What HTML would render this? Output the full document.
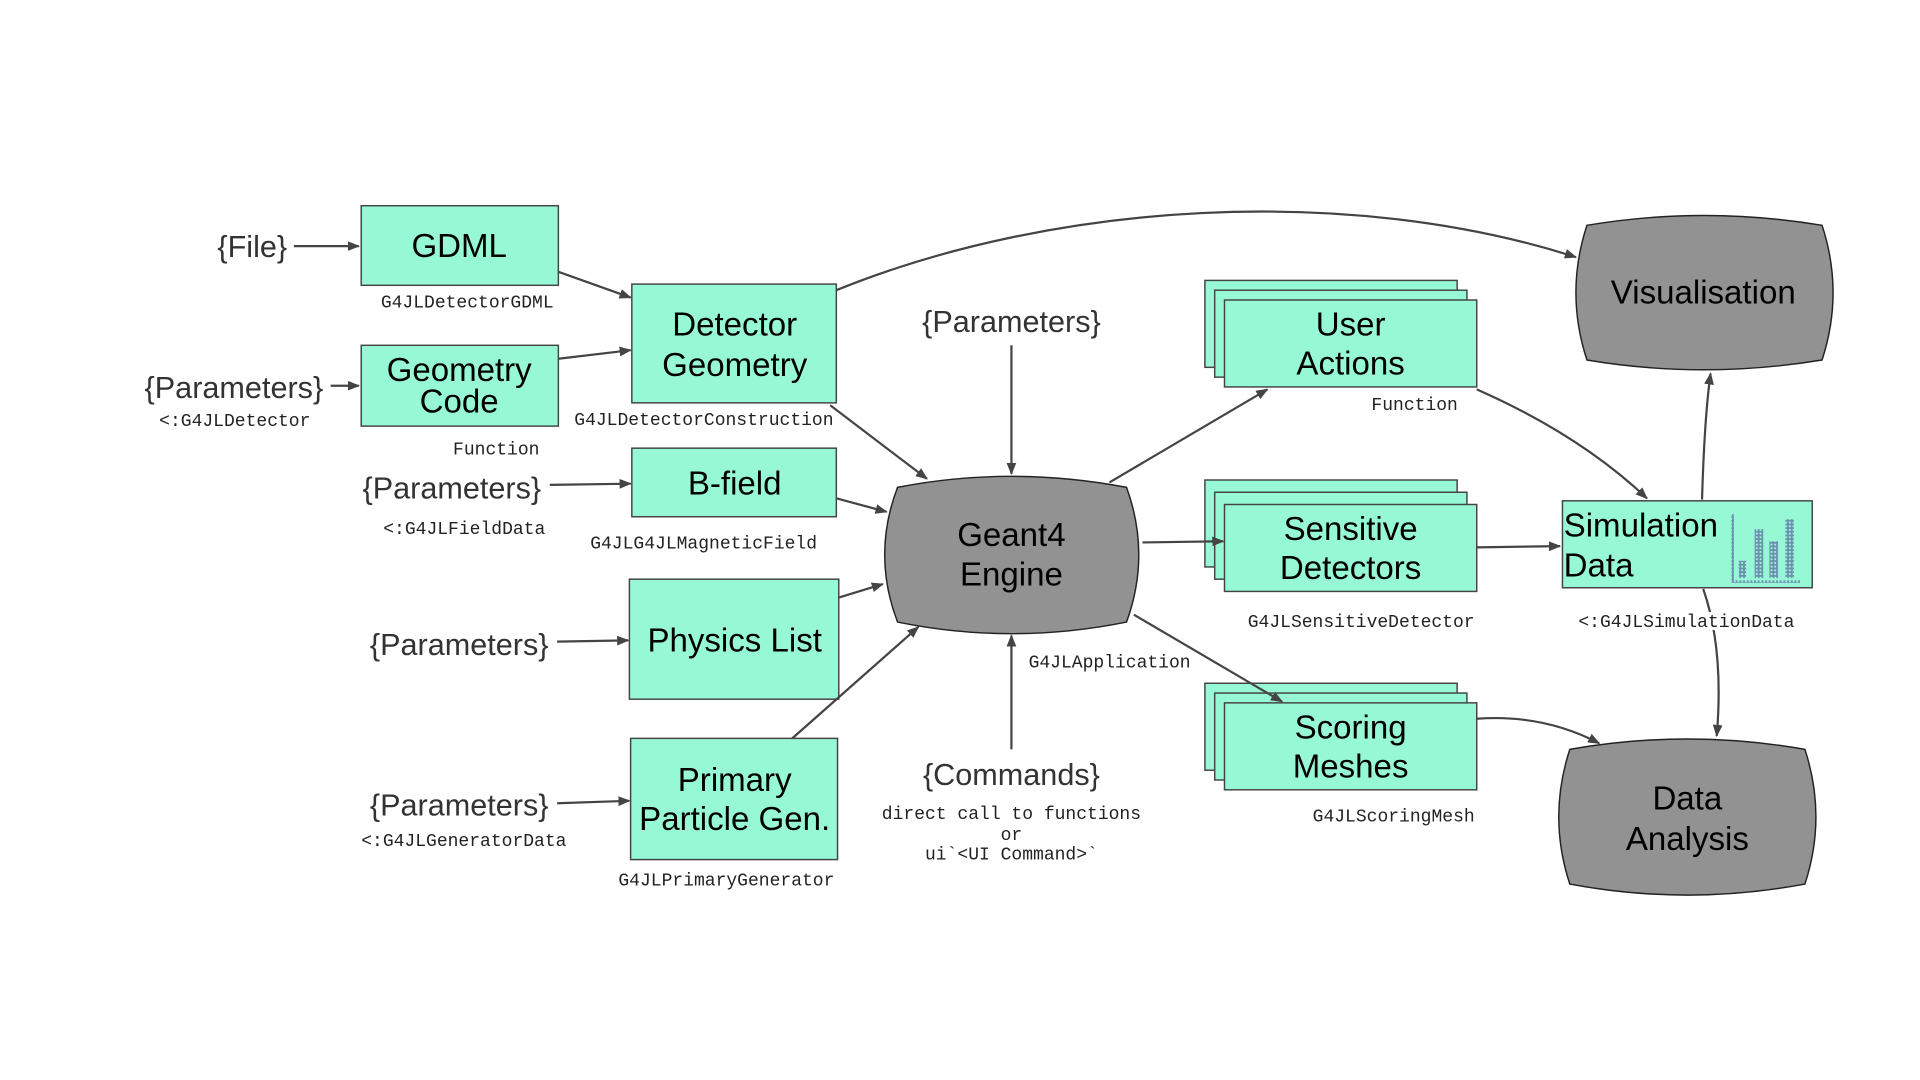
<!DOCTYPE html>
<html><head><meta charset="utf-8"><style>
html,body{margin:0;padding:0;background:#fff;}
svg{display:block;}
.box{fill:#97f8d5;stroke:#444;stroke-width:1.2;}
.gray{fill:#929292;stroke:#222;stroke-width:1.2;}
.t{font-family:"Liberation Sans",sans-serif;font-size:27px;fill:#000;text-anchor:middle;}
.p{font-family:"Liberation Sans",sans-serif;font-size:25px;fill:#333;text-anchor:middle;}
.m{font-family:"Liberation Mono",monospace;font-size:14.7px;fill:#222;}
.a{fill:none;stroke:#444;stroke-width:1.8;marker-end:url(#ah);}
</style></head><body>
<svg width="1920" height="1080" viewBox="0 0 1568 882">
<defs><marker id="ah" markerWidth="10" markerHeight="8" refX="9" refY="4" orient="auto" markerUnits="userSpaceOnUse"><path d="M0,0 L10,4 L0,8 z" fill="#444"/></marker>
<pattern id="dots" width="3" height="3" patternUnits="userSpaceOnUse"><rect width="3" height="3" fill="#6d8fb0"/><rect width="1.5" height="1.5" fill="#97f8d5"/></pattern></defs>

<text class="p" x="206" y="210">{File}</text>
<rect class="box" x="295" y="168" width="161" height="65"/>
<text class="t" x="375" y="210">GDML</text>
<text class="m" x="311" y="251">G4JLDetectorGDML</text>

<text class="p" x="191" y="325">{Parameters}</text>
<rect class="box" x="295" y="282" width="161" height="66"/>
<text class="t" x="375" y="311">Geometry</text>
<text class="t" x="375" y="337">Code</text>
<text class="m" x="130" y="348">&lt;:G4JLDetector</text>
<text class="m" x="370" y="371">Function</text>

<rect class="box" x="516" y="232" width="167" height="97"/>
<text class="t" x="600" y="274">Detector</text>
<text class="t" x="600" y="307">Geometry</text>
<text class="m" x="469" y="347">G4JLDetectorConstruction</text>

<text class="p" x="369" y="407">{Parameters}</text>
<rect class="box" x="516" y="366" width="167" height="56"/>
<text class="t" x="600" y="404">B-field</text>
<text class="m" x="313" y="436">&lt;:G4JLFieldData</text>
<text class="m" x="482" y="448">G4JLG4JLMagneticField</text>

<text class="p" x="375" y="535">{Parameters}</text>
<rect class="box" x="514" y="473" width="171" height="98"/>
<text class="t" x="600" y="532">Physics List</text>

<text class="p" x="375" y="666">{Parameters}</text>
<rect class="box" x="515" y="603" width="169" height="99"/>
<text class="t" x="600" y="646">Primary</text>
<text class="t" x="600" y="678">Particle Gen.</text>
<text class="m" x="295" y="691">&lt;:G4JLGeneratorData</text>
<text class="m" x="505" y="723">G4JLPrimaryGenerator</text>

<text class="p" x="826" y="271">{Parameters}</text>
<path class="gray" d="M733,398 Q826,380 920,398 Q940,453 920,508 Q826,527 733,508 Q712,453 733,398 Z"/>
<text class="t" x="826" y="446">Geant4</text>
<text class="t" x="826" y="478">Engine</text>
<text class="m" x="840" y="545">G4JLApplication</text>
<text class="p" x="826" y="641">{Commands}</text>
<text class="m" x="826" y="669" text-anchor="middle">direct call to functions</text>
<text class="m" x="826" y="686" text-anchor="middle">or</text>
<text class="m" x="826" y="702" text-anchor="middle">ui`&lt;UI Command&gt;`</text>

<g>
<rect class="box" x="984" y="229" width="206" height="71"/>
<rect class="box" x="992" y="237" width="206" height="71"/>
<rect class="box" x="1000" y="245" width="206" height="71"/>
<text class="t" x="1103" y="274">User</text>
<text class="t" x="1103" y="306">Actions</text>
</g>
<text class="m" x="1120" y="335">Function</text>

<g>
<rect class="box" x="984" y="392" width="206" height="71"/>
<rect class="box" x="992" y="402" width="206" height="71"/>
<rect class="box" x="1000" y="412" width="206" height="71"/>
<text class="t" x="1103" y="441">Sensitive</text>
<text class="t" x="1103" y="473">Detectors</text>
</g>
<text class="m" x="1019" y="512">G4JLSensitiveDetector</text>

<g>
<rect class="box" x="984" y="558" width="206" height="71"/>
<rect class="box" x="992" y="566" width="206" height="71"/>
<rect class="box" x="1000" y="574" width="206" height="71"/>
<text class="t" x="1103" y="603">Scoring</text>
<text class="t" x="1103" y="635">Meshes</text>
</g>
<text class="m" x="1072" y="671">G4JLScoringMesh</text>

<path class="gray" d="M1296,184 Q1391,168 1488,184 Q1506,239 1488,294 Q1391,310 1296,294 Q1278,239 1296,184 Z"/>
<text class="t" x="1391" y="248">Visualisation</text>

<rect class="box" x="1276" y="409" width="204" height="71"/>
<text class="t" x="1277" y="438" style="text-anchor:start">Simulation</text>
<text class="t" x="1277" y="471" style="text-anchor:start">Data</text>
<g>
<rect x="1414" y="420" width="2" height="54" fill="url(#dots)"/>
<rect x="1414" y="474" width="56" height="2" fill="url(#dots)"/>
<rect x="1420" y="458" width="6" height="14" fill="url(#dots)"/>
<rect x="1433" y="432" width="7" height="40" fill="url(#dots)"/>
<rect x="1445" y="442" width="7" height="30" fill="url(#dots)"/>
<rect x="1458" y="424" width="7" height="48" fill="url(#dots)"/>
</g>

<path class="gray" d="M1282,612 Q1378,595 1474,612 Q1492,667 1474,722 Q1378,740 1282,722 Q1264,667 1282,612 Z"/>
<text class="t" x="1378" y="661">Data</text>
<text class="t" x="1378" y="694">Analysis</text>

<g>
<path class="a" d="M240,201 L293,201"/>
<path class="a" d="M270,315 L293,315"/>
<path class="a" d="M456,222 L515,243"/>
<path class="a" d="M456,293 L515,286"/>
<path class="a" d="M683,237 C860,165 1100,150 1287,210"/>
<path class="a" d="M678,331 L757,391"/>
<path class="a" d="M449,396 L515,395"/>
<path class="a" d="M683,407 L724,418"/>
<path class="a" d="M455,524 L513,523"/>
<path class="a" d="M685,488 L721,477"/>
<path class="a" d="M455,656 L514,654"/>
<path class="a" d="M647,603 L750,512"/>
<path class="a" d="M826,282 L826,387"/>
<path class="a" d="M826,612 L826,519"/>
<path class="a" d="M906,394 L1035,318"/>
<path class="a" d="M933,443 L999,442"/>
<path class="a" d="M926,502 L1047,573"/>
<path class="a" d="M1206,318 Q1290,355 1345,407"/>
<path class="a" d="M1206,447 L1274,446"/>
<path class="a" d="M1390,408 Q1392,340 1397,305"/>
<path class="a" d="M1391,481 Q1408,530 1402,601"/>
<path class="a" d="M1206,587 Q1260,583 1306,607"/>
</g>
<text class="m" x="1289" y="512" style="paint-order:stroke;stroke:#fff;stroke-width:5px">&lt;:G4JLSimulationData</text>
</svg>
</body></html>
